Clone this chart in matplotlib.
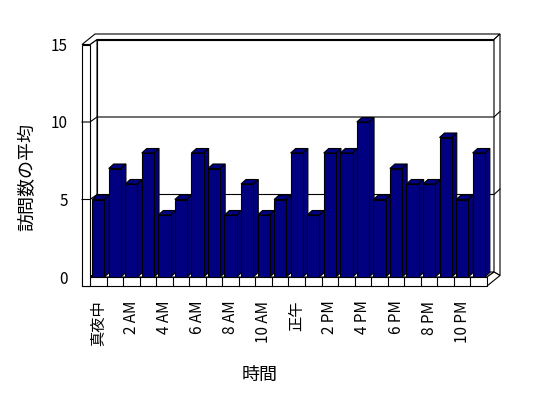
import matplotlib
matplotlib.use("Agg")
import matplotlib.pyplot as plt
from matplotlib.patches import Polygon, Rectangle

plt.rcParams['font.family'] = ['Noto Sans CJK JP', 'DejaVu Sans']

# data
hours = list(range(24))
visits = [5, 7, 6, 8, 4, 5, 8, 7, 4, 6, 4, 5, 8, 4, 8, 8, 10, 5, 7, 6, 6, 9, 5, 8]
tick_pos = list(range(0, 24, 2))
tick_labels = ['真夜中', '2 AM', '4 AM', '6 AM', '8 AM', '10 AM',
               '正午', '2 PM', '4 PM', '6 PM', '8 PM', '10 PM']
y_ticks = [0, 5, 10, 15]

W, H = 548, 398
fig = plt.figure(figsize=(W / 100, H / 100), dpi=100)
SX = 397 / 24.0   # px per category
SY = 15.5         # px per unit
ax = fig.add_axes([90 / W, (H - 277) / H, 397 / W, 15 * SY / H])
ax.set_xlim(-0.5, 23.5)
ax.set_ylim(0, 15)
for s in ax.spines.values():
    s.set_visible(False)
ax.patch.set_visible(False)


def off(x, y, dxp, dyp):
    # shift a data point by a pixel offset (dyp > 0 means up)
    return (x + dxp / SX, y + dyp / SY)


D1 = (7, 5)     # depth to the inner face of back wall
D2 = (13, 10.5)  # depth to the outer face
BD = (5, 4.5)   # depth of the bars
x0 = -0.5 - 8 / SX   # front-left of the wall
x1 = -0.5
xr = 23.5
top = 15
fl = -9 / SY   # floor thickness
lw = 0.8
wall = dict(facecolor='white', edgecolor='black', lw=lw, clip_on=False)


def poly(pts, z, **kw):
    p = Polygon(pts, closed=True, zorder=z, **kw)
    ax.add_patch(p)


# back wall inner face
poly([off(x1, 0, *D1), off(xr, 0, *D1), off(xr, top, *D1), off(x1, top, *D1)], 1, **wall)
# left wall inner face
poly([(x1, 0), off(x1, 0, *D1), off(x1, top, *D1), (x1, top)], 1, **wall)
# top faces of walls
poly([(x0, top), (x1, top), off(x1, top, *D1), off(xr, top, *D1),
      off(xr, top, *D2), off(x0, top, *D2)], 1, **wall)
# right thickness of back wall
poly([off(xr, 0, *D1), off(xr, top, *D1), off(xr, top, *D2), off(xr, fl, *D2)], 1, **wall)
# floor top
poly([(x1, 0), (xr, 0), off(xr, 0, *D1), off(x1, 0, *D1)], 1, **wall)
# floor right face
poly([(xr, 0), (xr, fl), off(xr, fl, *D2), off(xr, 0, *D1)], 1, **wall)
# floor front
ax.add_patch(Rectangle((x0, fl), xr - x0, -fl, zorder=1.2, **wall))
for k in range(1, 24):
    ax.plot([-0.5 + k, -0.5 + k], [fl, 0], color='black', lw=lw, clip_on=False, zorder=1.3)
# left wall front
ax.add_patch(Rectangle((x0, fl), x1 - x0, top - fl, zorder=1.2, **wall))

# gridlines
for v in [5, 10]:
    pts = [(x0, v), (x1, v), off(x1, v, *D1), off(xr, v, *D1), off(xr, v, *D2)]
    ax.plot([p[0] for p in pts], [p[1] for p in pts], color='black', lw=lw,
            clip_on=False, zorder=1.5)

# bars
bw = 0.74
navy = '#000080'
for i, v in zip(hours, visits):
    a, b = i - bw / 2, i + bw / 2
    poly([(a, v), (b, v), off(b, v, *BD), off(a, v, *BD)], 2,
         facecolor=navy, edgecolor='black', lw=lw, clip_on=False)
    poly([(b, 0), off(b, 0, *BD), off(b, v, *BD), (b, v)], 2,
         facecolor=navy, edgecolor='black', lw=lw, clip_on=False)
ax.bar(hours, visits, width=bw, color=navy, edgecolor='black', lw=lw, zorder=3)

ax.set_yticks(y_ticks)
ax.set_yticklabels([str(t) for t in y_ticks], fontsize=11)
ax.tick_params(axis='y', length=0, pad=16)
ax.set_xticks(tick_pos)
ax.set_xticklabels(tick_labels, rotation=90, fontsize=11)
ax.tick_params(axis='x', length=0, pad=17)

fig.text(260 / W, 1 - 375 / H, '時間', fontsize=13, ha='center', va='center')
fig.text(27 / W, 1 - 177 / H, '訪問数の平均', fontsize=13, ha='center', va='center',
         rotation=90)

fig.savefig('out.png', dpi=100)
